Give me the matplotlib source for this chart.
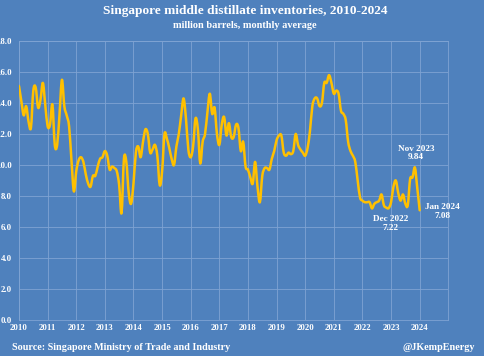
import matplotlib
matplotlib.use("Agg")
import matplotlib.pyplot as plt
import numpy as np
from matplotlib.path import Path
from matplotlib.patches import PathPatch

# monthly average inventories, million barrels, Jan 2010 .. Jan 2024
y2010 = [15.1, 14.1, 13.2, 13.8, 12.8, 12.4, 14.8, 15.0, 13.7, 14.2, 15.3, 13.9]
y2011 = [12.5, 12.6, 13.9, 11.3, 11.3, 13.3, 15.5, 13.8, 13.2, 12.5, 10.3, 8.3]
y2012 = [9.6, 10.3, 10.5, 10.2, 9.4, 8.8, 8.6, 9.3, 9.3, 9.9, 10.4, 10.5]
y2013 = [10.9, 10.6, 9.7, 9.9, 9.8, 9.6, 8.7, 6.9, 10.4, 10.2, 8.2, 7.5]
y2014 = [8.8, 10.8, 11.2, 10.5, 11.5, 12.3, 12.0, 10.8, 11.0, 11.3, 10.6, 8.7]
y2015 = [9.6, 12.0, 11.7, 11.1, 10.4, 10.0, 11.2, 12.0, 13.2, 14.3, 13.0, 11.0]
y2016 = [10.5, 11.2, 13.0, 12.3, 10.1, 11.5, 12.0, 13.4, 14.6, 13.3, 13.7, 12.0]
y2017 = [11.3, 12.6, 13.1, 11.9, 12.7, 11.8, 11.8, 12.6, 12.4, 10.9, 11.5, 9.9]
y2018 = [9.7, 9.2, 8.8, 10.2, 8.6, 7.6, 9.3, 9.8, 9.8, 9.7, 10.4, 10.9]
y2019 = [11.6, 11.9, 11.9, 10.8, 10.6, 10.8, 10.7, 10.9, 12.0, 11.3, 11.0, 10.8]
y2020 = [10.6, 11.1, 12.2, 13.8, 14.3, 14.3, 13.8, 14.0, 15.3, 15.3, 15.8, 15.3]
y2021 = [14.6, 14.8, 14.6, 13.5, 13.3, 12.9, 11.5, 10.9, 10.6, 10.2, 9.0, 7.9]
y2022 = [7.7, 7.6, 7.6, 7.6, 7.2, 7.5, 7.6, 7.7, 8.1, 7.4, 7.25, 7.22]
y2023 = [7.6, 8.6, 9.0, 8.2, 7.7, 8.1, 7.5, 7.4, 9.1, 9.2, 9.84, 8.5]
y2024 = [7.08]

inventories = np.array(y2010 + y2011 + y2012 + y2013 + y2014 + y2015 + y2016 +
                       y2017 + y2018 + y2019 + y2020 + y2021 + y2022 + y2023 + y2024)
dates = 2010 + np.arange(len(inventories)) / 12.0

years = list(range(2010, 2025))
yticks = [0, 2, 4, 6, 8, 10, 12, 14, 16, 18]

# labelled points: (label, month index, text offset in pixels)
notes = [("Dec 2022", 155, (2, -15.5)),
         ("Nov 2023", 166, (1, 14.5)),
         ("Jan 2024", 168, (22.5, -1))]

bg = "#4F81BD"
grid_c = "#7FA3D3"
line_c = "#FFC000"
serif = ["Liberation Serif", "DejaVu Serif"]

fig = plt.figure(figsize=(4.85, 3.56), dpi=100, facecolor=bg)
ax = fig.add_axes([19 / 485, 1 - 320 / 356, (448.3 - 19) / 485, (320 - 41) / 356])
ax.set_facecolor(bg)

# smoothed line like a spreadsheet "smoothed line" (Catmull-Rom -> Bezier)
x, y = dates, inventories
verts = [(x[0], y[0])]
codes = [Path.MOVETO]
for i in range(len(x) - 1):
    p0 = i - 1 if i > 0 else i
    p3 = i + 2 if i + 2 < len(x) else i + 1
    c1 = (x[i] + (x[i + 1] - x[p0]) / 6, y[i] + (y[i + 1] - y[p0]) / 6)
    c2 = (x[i + 1] - (x[p3] - x[i]) / 6, y[i + 1] - (y[p3] - y[i]) / 6)
    verts += [c1, c2, (x[i + 1], y[i + 1])]
    codes += [Path.CURVE4] * 3
ax.add_patch(PathPatch(Path(verts, codes), fill=False, edgecolor=line_c,
                       lw=1.8, capstyle="round", joinstyle="round", zorder=3))

ax.set_xlim(2010, 2025)
ax.set_ylim(0, 18)
ax.set_xticks(years)
ax.set_xticklabels([str(v) for v in years])
ax.set_yticks(yticks)
ax.set_yticklabels(["%.1f" % v for v in yticks])
ax.grid(True, color=grid_c, lw=0.6)
ax.set_axisbelow(True)
for s in ax.spines.values():
    s.set_color(grid_c)
    s.set_linewidth(0.6)
ax.tick_params(length=0, colors="white")
ax.tick_params(axis="y", pad=5)
ax.tick_params(axis="x", pad=3)
for lab in ax.get_xticklabels() + ax.get_yticklabels():
    lab.set_family(serif)
    lab.set_fontweight("bold")
    lab.set_fontsize(6.3)

for label, idx, off in notes:
    ax.annotate("%s\n%.2f" % (label, inventories[idx]), (dates[idx], inventories[idx]),
                xytext=off, textcoords="offset pixels", ha="center", va="center",
                color="white", fontsize=6.6, fontweight="bold", family=serif,
                linespacing=1.15)

fig.text(0.505, 0.968, "Singapore middle distillate inventories, 2010-2024",
         ha="center", va="center", color="white", fontsize=9.6, fontweight="bold", family=serif)
fig.text(0.505, 0.927, "million barrels, monthly average",
         ha="center", va="center", color="white", fontsize=7.4, fontweight="bold", family=serif)
fig.text(0.025, 0.025, "Source: Singapore Ministry of Trade and Industry",
         ha="left", va="center", color="white", fontsize=7.3, fontweight="bold", family=serif)
fig.text(0.98, 0.025, "@JKempEnergy",
         ha="right", va="center", color="white", fontsize=7.3, fontweight="bold", family=serif)

fig.savefig("out.png", dpi=100, facecolor=bg)
